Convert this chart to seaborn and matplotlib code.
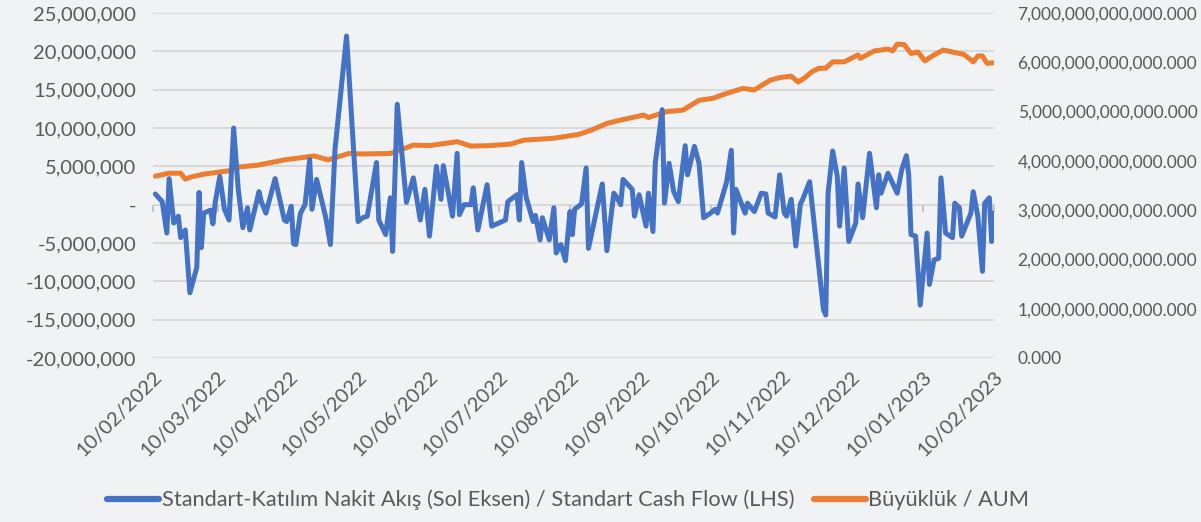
import matplotlib
matplotlib.use("Agg")
import matplotlib.pyplot as plt
import matplotlib.dates as mdates
from matplotlib.ticker import FuncFormatter, MultipleLocator
import seaborn as sns
import pandas as pd

# ---------------- data ----------------
flow_dates = [
    "2022-02-11", "2022-02-14", "2022-02-16", "2022-02-17", "2022-02-19", "2022-02-21",
    "2022-02-22", "2022-02-24", "2022-02-26", "2022-03-01", "2022-03-02", "2022-03-03",
    "2022-03-04", "2022-03-07", "2022-03-08", "2022-03-09", "2022-03-11", "2022-03-13",
    "2022-03-15", "2022-03-17", "2022-03-19", "2022-03-21", "2022-03-23", "2022-03-24",
    "2022-03-28", "2022-03-29", "2022-03-31", "2022-04-04", "2022-04-08", "2022-04-09",
    "2022-04-11", "2022-04-12", "2022-04-13", "2022-04-15", "2022-04-17", "2022-04-19",
    "2022-04-20", "2022-04-22", "2022-04-26", "2022-04-28", "2022-04-30", "2022-05-05",
    "2022-05-10", "2022-05-12", "2022-05-14", "2022-05-18", "2022-05-19", "2022-05-22",
    "2022-05-24", "2022-05-25", "2022-05-27", "2022-05-31", "2022-06-03", "2022-06-06",
    "2022-06-08", "2022-06-10", "2022-06-13", "2022-06-15", "2022-06-16", "2022-06-20",
    "2022-06-22", "2022-06-23", "2022-06-25", "2022-06-28", "2022-06-29", "2022-07-01",
    "2022-07-05", "2022-07-07", "2022-07-13", "2022-07-14", "2022-07-18", "2022-07-19",
    "2022-07-20", "2022-07-22", "2022-07-25", "2022-07-26", "2022-07-28", "2022-07-29",
    "2022-08-01", "2022-08-03", "2022-08-04", "2022-08-06", "2022-08-08", "2022-08-10",
    "2022-08-11", "2022-08-12", "2022-08-15", "2022-08-17", "2022-08-18", "2022-08-21",
    "2022-08-24", "2022-08-26", "2022-08-29", "2022-08-30", "2022-09-01", "2022-09-02",
    "2022-09-06", "2022-09-07", "2022-09-09", "2022-09-12", "2022-09-13", "2022-09-15",
    "2022-09-16", "2022-09-19", "2022-09-20", "2022-09-22", "2022-09-24", "2022-09-26",
    "2022-09-29", "2022-09-30", "2022-10-03", "2022-10-05", "2022-10-07", "2022-10-10",
    "2022-10-12", "2022-10-13", "2022-10-17", "2022-10-19", "2022-10-20", "2022-10-21",
    "2022-10-25", "2022-10-26", "2022-10-29", "2022-11-01", "2022-11-03", "2022-11-04",
    "2022-11-07", "2022-11-09", "2022-11-11", "2022-11-12", "2022-11-14", "2022-11-16",
    "2022-11-18", "2022-11-19", "2022-11-22", "2022-11-28", "2022-11-29", "2022-11-30",
    "2022-12-02", "2022-12-04", "2022-12-05", "2022-12-07", "2022-12-09", "2022-12-12",
    "2022-12-13", "2022-12-15", "2022-12-18", "2022-12-21", "2022-12-22", "2022-12-23",
    "2022-12-26", "2022-12-28", "2022-12-30", "2023-01-01", "2023-01-03", "2023-01-04",
    "2023-01-05", "2023-01-07", "2023-01-09", "2023-01-12", "2023-01-13", "2023-01-15",
    "2023-01-17", "2023-01-18", "2023-01-20", "2023-01-23", "2023-01-24", "2023-01-26",
    "2023-01-27", "2023-01-31", "2023-02-01", "2023-02-03", "2023-02-05", "2023-02-06",
    "2023-02-08", "2023-02-09", "2023-02-10",
]
flow_millions = [
    1.4, 0.4, -3.7, 3.4, -2.4, -1.5,
    -4.3, -3.3, -11.5, -8.2, 1.6, -5.6,
    -1.1, -0.7, -2.5, 0.3, 3.7, -0.6,
    -2.0, 10.0, 2.0, -3.0, -0.4, -3.3,
    1.7, 0.4, -1.1, 3.4, -2.0, -2.2,
    -0.2, -5.1, -5.2, -1.1, 0.0, 5.9,
    -0.6, 3.3, -1.7, -5.2, 7.2, 22.0,
    -2.2, -1.7, -1.5, 5.5, -2.0, -3.9,
    0.9, -6.1, 13.1, 0.3, 3.5, -2.0,
    2.0, -4.1, 5.0, 0.7, 5.1, -1.5,
    6.7, -1.3, 0.0, 0.0, 2.2, -3.3,
    2.6, -2.8, -2.0, 0.4, 1.3, -2.0,
    5.5, 0.9, -2.2, -1.4, -4.6, -1.7,
    -4.6, -0.4, -6.3, -5.2, -7.3, -0.9,
    -3.9, -0.6, 0.1, 4.8, -5.7, -1.5,
    2.7, -6.0, 1.5, 1.1, 0.0, 3.3,
    2.0, -1.5, 1.3, -2.8, 1.5, -3.5,
    5.4, 12.4, 0.2, 5.4, 1.7, 0.4,
    7.7, 3.9, 7.6, 5.4, -1.7, -1.1,
    -0.6, -1.1, 3.0, 7.1, -3.7, 2.0,
    -1.1, 0.2, -0.9, 1.5, 1.4, -1.1,
    -1.6, 3.9, -1.1, -1.5, 0.7, -5.4,
    0.1, 0.7, 3.0, -13.7, -14.4, 1.5,
    7.0, 3.7, -2.8, 4.8, -4.8, -2.4,
    2.7, -1.7, 6.7, -0.4, 3.9, 1.5,
    4.1, 2.8, 1.5, 4.6, 6.4, 3.9,
    -3.9, -4.1, -13.1, -3.7, -10.4, -7.2,
    -7.0, 3.5, -3.7, -4.3, 0.2, -0.4,
    -4.1, -1.1, 1.7, -1.5, -8.7, 0.2,
    0.9, -4.8, -1.1,
]

aum_dates = [
    "2022-02-11", "2022-02-17", "2022-02-22", "2022-02-24", "2022-02-27", "2022-03-04",
    "2022-03-15", "2022-03-20", "2022-03-27", "2022-04-08", "2022-04-21", "2022-04-27",
    "2022-05-06", "2022-05-12", "2022-05-24", "2022-05-30", "2022-06-03", "2022-06-10",
    "2022-06-22", "2022-06-28", "2022-07-06", "2022-07-15", "2022-07-21", "2022-08-03",
    "2022-08-14", "2022-08-19", "2022-08-26", "2022-09-02", "2022-09-11", "2022-09-13",
    "2022-09-21", "2022-09-28", "2022-10-05", "2022-10-11", "2022-10-17", "2022-10-24",
    "2022-10-29", "2022-11-05", "2022-11-09", "2022-11-14", "2022-11-17", "2022-11-20",
    "2022-11-23", "2022-11-26", "2022-11-29", "2022-12-02", "2022-12-07", "2022-12-13",
    "2022-12-14", "2022-12-20", "2022-12-26", "2022-12-28", "2022-12-30", "2023-01-02",
    "2023-01-05", "2023-01-08", "2023-01-11", "2023-01-15", "2023-01-19", "2023-01-28",
    "2023-02-01", "2023-02-03", "2023-02-05", "2023-02-07", "2023-02-10",
]
aum_trillions = [
    3.69, 3.75, 3.75, 3.63, 3.68, 3.73,
    3.80, 3.88, 3.91, 4.02, 4.10, 4.02,
    4.15, 4.14, 4.15, 4.25, 4.32, 4.31,
    4.39, 4.30, 4.31, 4.34, 4.42, 4.46,
    4.54, 4.62, 4.76, 4.84, 4.93, 4.88,
    5.00, 5.03, 5.23, 5.27, 5.37, 5.47,
    5.44, 5.64, 5.69, 5.72, 5.60, 5.69,
    5.81, 5.88, 5.88, 6.01, 6.01, 6.15,
    6.08, 6.23, 6.27, 6.23, 6.37, 6.36,
    6.18, 6.21, 6.03, 6.15, 6.25, 6.16,
    6.01, 6.13, 6.13, 5.98, 5.99,
]

flow_label = "Standart-Katılım Nakit Akış (Sol Eksen) / Standart Cash Flow (LHS)"
aum_label = "Büyüklük / AUM"

# ---------------- frames ----------------
flow_df = pd.DataFrame({"date": pd.to_datetime(flow_dates),
                        "flow": [v * 1e6 for v in flow_millions]})
aum_df = pd.DataFrame({"date": pd.to_datetime(aum_dates),
                       "aum": [v * 1e12 for v in aum_trillions]})

# ---------------- style ----------------
sns.set_style("white")
plt.rcParams["font.family"] = ["Lato", "DejaVu Sans"]
BG = "#f1f2f4"
TXT = "#595959"
BLUE = "#4472C4"
ORANGE = "#ED7D31"
FS_LEFT = 14.5
FS_RIGHT = 12.5
FS_DATE = 14.5
FS_LEG = 15.7

fig = plt.figure(figsize=(12.01, 5.22), dpi=100, facecolor=BG)
ax = fig.add_axes([0.1274, 0.3142, 0.7002, 0.6608])
ax2 = ax.twinx()

sns.lineplot(data=aum_df, x="date", y="aum", ax=ax2, color=ORANGE, lw=3.6,
             label=aum_label, legend=False)
sns.lineplot(data=flow_df, x="date", y="flow", ax=ax, color=BLUE, lw=3.6,
             label=flow_label, legend=False)

# draw the left (blue) axes on top, background on the right axes
ax2.set_zorder(0)
ax.set_zorder(1)
ax.patch.set_visible(False)
ax2.set_facecolor(BG)

# left axis
ax.set_ylim(-20e6, 25e6)
ax.yaxis.set_major_locator(MultipleLocator(5e6))
ax.yaxis.set_major_formatter(FuncFormatter(lambda v, p: "-" if abs(v) < 1 else f"{v:,.0f}"))
ax.tick_params(axis="y", length=0, pad=12, labelsize=FS_LEFT, labelcolor=TXT)

# right axis
ax2.set_ylim(0, 7e12)
ax2.yaxis.set_major_locator(MultipleLocator(1e12))
ax2.yaxis.set_major_formatter(FuncFormatter(lambda v, p: f"{v:,.3f}"))
ax2.tick_params(axis="y", length=0, pad=17, labelsize=FS_RIGHT, labelcolor=TXT)
ax2.grid(False)

# horizontal gridlines follow the left axis; place them under the orange line
for yv in ax.get_yticks():
    if -20e6 <= yv <= 25e6:
        ax2.axhline(ax2.transData.inverted().transform(
            ax.transData.transform((0, yv)))[1], color="#d9d9d9", lw=1.4, zorder=0)
ax.grid(False)

# x axis
start, end = pd.Timestamp("2022-02-10"), pd.Timestamp("2023-02-10")
ax.set_xlim(start, end)
month_ticks = pd.date_range(start, end, freq=pd.DateOffset(months=1))
ax.set_xticks(month_ticks)
ax.xaxis.set_major_formatter(mdates.DateFormatter("%d/%m/%Y"))
ax.tick_params(axis="x", length=0, pad=7, labelsize=FS_DATE, labelcolor=TXT)
plt.setp(ax.get_xticklabels(), rotation=45, ha="right", rotation_mode="anchor")
ax.set_xlabel("")
ax.set_ylabel("")
ax2.set_ylabel("")

# small category-axis tick marks at the zero line
zero_frac = 20 / 45
sec = ax.secondary_xaxis(zero_frac)
sec.set_xticks(month_ticks)
sec.tick_params(axis="x", length=5, width=1.2, color="#bfbfbf",
                labelbottom=False, labeltop=False, direction="out")
for s in sec.spines.values():
    s.set_visible(False)

for a in (ax, ax2):
    for s in a.spines.values():
        s.set_visible(False)

# legend
h1, l1 = ax.get_legend_handles_labels()
h2, l2 = ax2.get_legend_handles_labels()
leg = fig.legend(h1 + h2, l1 + l2, loc="center", bbox_to_anchor=(0.473, 0.042), ncol=2,
                 frameon=False, fontsize=FS_LEG, handlelength=2.4, handletextpad=0.1,
                 columnspacing=0.9)
for t in leg.get_texts():
    t.set_color(TXT)
for h in leg.legend_handles:
    h.set_linewidth(4.5)

fig.savefig("out.png", dpi=100, facecolor=BG)
